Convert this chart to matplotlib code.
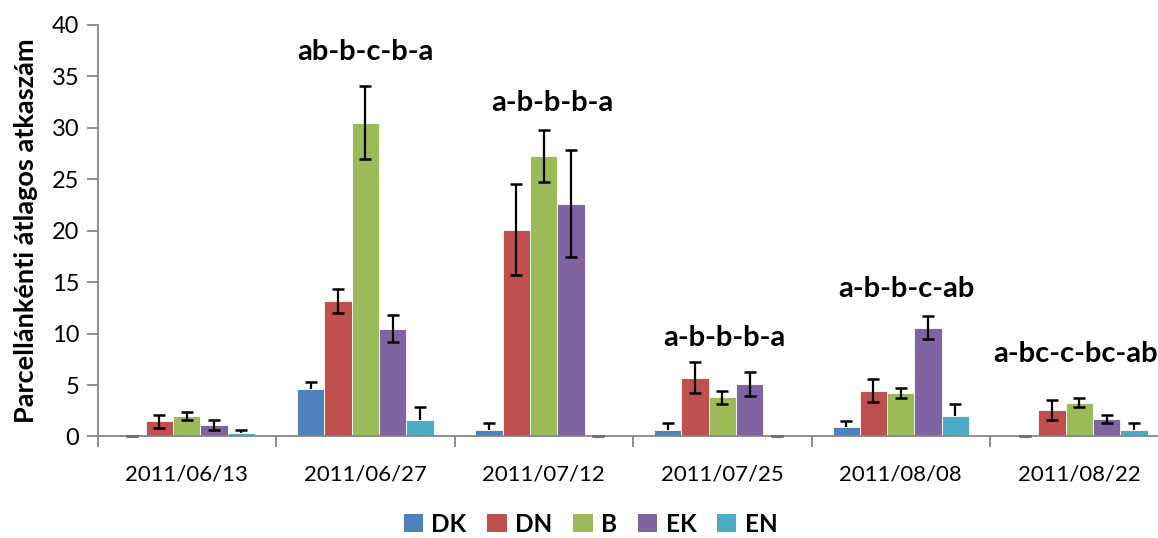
import matplotlib
matplotlib.use("Agg")
import matplotlib.pyplot as plt
import numpy as np

# Sampling dates (categories)
dates = ["2011/06/13", "2011/06/27", "2011/07/12", "2011/07/25", "2011/08/08", "2011/08/22"]
series_names = ["DK", "DN", "B", "EK", "EN"]

# Mean mite count per plot for each treatment
dk = [0.0, 4.62, 0.60, 0.63, 0.95, 0.0]
dn = [1.48, 13.2, 20.1, 5.71, 4.45, 2.56]
b = [1.99, 30.5, 27.26, 3.81, 4.20, 3.27]
ek = [1.09, 10.48, 22.6, 5.10, 10.57, 1.69]
en = [0.31, 1.60, 0.0, 0.0, 1.96, 0.63]

# Standard errors
dk_err = [0.0, 0.70, 0.68, 0.70, 0.60, 0.0]
dn_err = [0.63, 1.17, 4.40, 1.50, 1.10, 0.94]
b_err = [0.40, 3.55, 2.53, 0.65, 0.47, 0.43]
ek_err = [0.49, 1.32, 5.20, 1.15, 1.10, 0.39]
en_err = [0.31, 1.23, 0.0, 0.0, 1.17, 0.68]

# Significance letters above the groups
sig_labels = ["", "ab-b-c-b-a", "a-b-b-b-a", "a-b-b-b-a", "a-b-b-c-ab", "a-bc-c-bc-ab"]

colors = ["#4F81BD", "#C0504D", "#9BBB59", "#8064A2", "#4BACC6"]
values = [dk, dn, b, ek, en]
errors = [dk_err, dn_err, b_err, ek_err, en_err]
upper_only = [True, False, False, False, True]

FONT = "Lato"
fig = plt.figure(figsize=(11.58, 5.38), dpi=100)
ax = fig.add_axes([0.0842, 0.1887, 0.9249, 0.7649])

x = np.arange(len(dates))
width = 0.153
for i, (name, vals, errs, col, up) in enumerate(zip(series_names, values, errors, colors, upper_only)):
    pos = x + (i - 2) * width
    vals = np.array(vals)
    errs = np.array(errs)
    ax.bar(pos, vals, width, color=col, edgecolor="white", linewidth=0.6, label=name, zorder=2)
    if up:
        ax.errorbar(pos, vals, yerr=[np.zeros_like(errs), errs], fmt="none",
                    ecolor="black", elinewidth=1.6, capsize=0, zorder=3)
        ax.plot(pos, vals + errs, ls="none", marker="_", ms=9, mew=1.8,
                color="black", zorder=3)
    else:
        ax.errorbar(pos, vals, yerr=errs, fmt="none", ecolor="black",
                    elinewidth=1.6, capsize=4.5, capthick=1.8, zorder=3)
    zero = vals == 0
    if zero.any():
        ax.plot(pos[zero], vals[zero], ls="none", marker="_", ms=8, mew=2.2,
                color="#707070", zorder=4, clip_on=False)

ax.set_xlim(-0.5, len(dates) - 0.5)
ax.set_ylim(0, 40)
ax.set_yticks(np.arange(0, 41, 5))
ax.set_xticks(x)
ax.set_xticklabels(dates)
ax.set_xticks(np.arange(-0.5, len(dates), 1.0), minor=True)

for side in ("top", "right"):
    ax.spines[side].set_visible(False)
for side in ("left", "bottom"):
    ax.spines[side].set_color("#868686")
    ax.spines[side].set_linewidth(1.3)

ax.tick_params(axis="x", which="major", length=0, pad=20, labelsize=15.9)
ax.tick_params(axis="x", which="minor", length=8, width=1.3, color="#868686", direction="out")
ax.tick_params(axis="y", which="major", length=8, width=1.3, color="#868686",
               direction="out", labelsize=17, pad=5)
for lab in ax.get_xticklabels() + ax.get_yticklabels():
    lab.set_fontfamily(FONT)

ax.set_ylabel("Parcellánkénti átlagos atkaszám", fontsize=19.5, fontweight="bold",
              fontfamily=FONT, labelpad=10)

# Significance letters
label_x = [0, 1.0, 2.05, 3.01, 4.03, 4.98]
label_y = [0, 37.4, 32.4, 9.6, 14.3, 8.0]
for lx, ly, txt in zip(label_x, label_y, sig_labels):
    if txt:
        ax.text(lx, ly, txt, ha="center", va="center", fontsize=21,
                fontweight="bold", fontfamily=FONT, zorder=5)

leg = fig.legend(loc="center", bbox_to_anchor=(0.510, 0.026), ncol=5, frameon=False,
                 prop={"family": FONT, "weight": "bold", "size": 17.5},
                 handlelength=0.8, handleheight=0.8, handletextpad=0.35,
                 columnspacing=0.85)
for h in leg.legend_handles:
    h.set_edgecolor("none")

fig.savefig("out.png", dpi=100)
